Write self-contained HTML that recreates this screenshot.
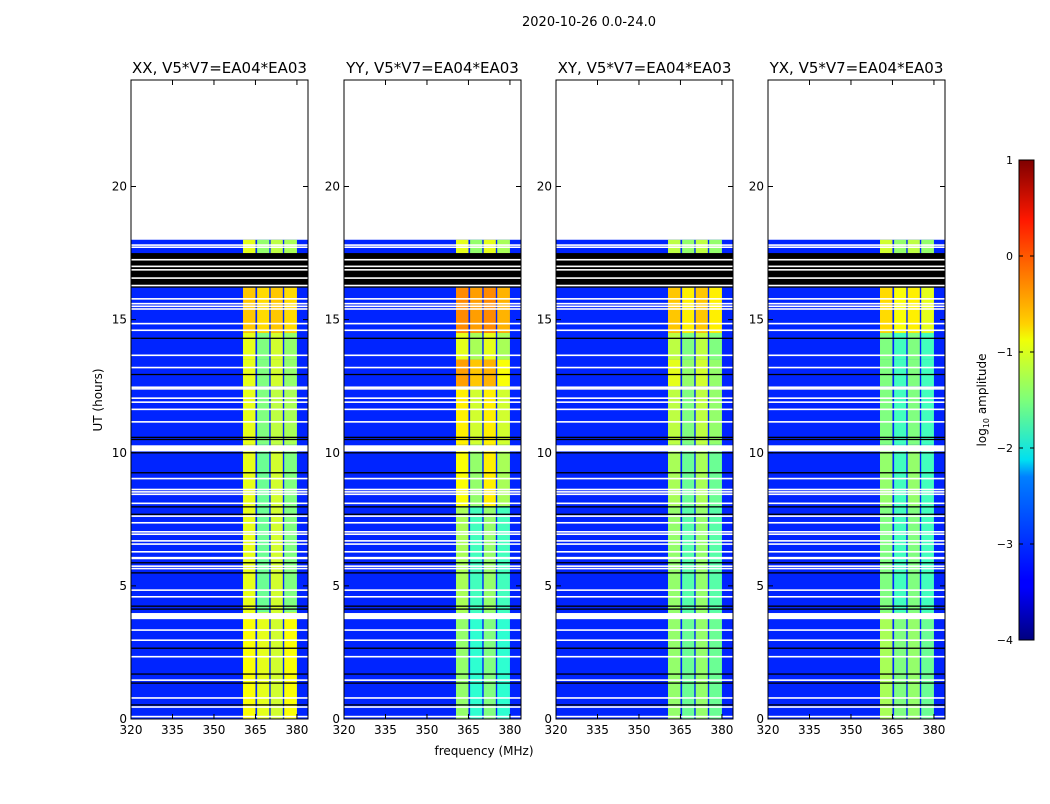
<!DOCTYPE html>
<html><head><meta charset="utf-8">
<style>
html,body{margin:0;padding:0;background:#fff;}
body{width:1050px;height:800px;overflow:hidden;font-family:"DejaVu Sans","Liberation Sans",sans-serif;}
svg text{font-family:"DejaVu Sans","Liberation Sans",sans-serif;}
</style></head>
<body>
<svg id="chart" width="1050" height="800" xmlns="http://www.w3.org/2000/svg">
<defs>
<linearGradient id="jet" x1="0" y1="1" x2="0" y2="0">
<stop offset="0" stop-color="#00007f"/><stop offset="0.11" stop-color="#0000ff"/>
<stop offset="0.125" stop-color="#0000ff"/><stop offset="0.34" stop-color="#0080ff"/>
<stop offset="0.375" stop-color="#00e0f0"/><stop offset="0.5" stop-color="#7dff7a"/>
<stop offset="0.625" stop-color="#f0ff07"/><stop offset="0.66" stop-color="#ffd000"/>
<stop offset="0.875" stop-color="#ff1800"/><stop offset="1" stop-color="#7f0000"/>
</linearGradient>
</defs>
<text x="589" y="26" font-size="13" text-anchor="middle">2020-10-26 0.0-24.0</text>
<text x="484" y="755" font-size="12" text-anchor="middle">frequency (MHz)</text>
<text x="102" y="400" font-size="12" text-anchor="middle" transform="rotate(-90 102 400)">UT (hours)</text>
<g id="panels"></g>
<g>
<rect x="1019" y="160" width="15" height="480" fill="url(#jet)" stroke="#000" stroke-width="1"/>
<g id="cbticks"></g>
<text x="986" y="400" font-size="12" text-anchor="middle" transform="rotate(-90 986 400)">log<tspan font-size="8" dy="3">10</tspan><tspan dy="-3"> amplitude</tspan></text>
</g>
</svg>
<script>
const panelTitles = ["XX, V5*V7=EA04*EA03","YY, V5*V7=EA04*EA03","XY, V5*V7=EA04*EA03","YX, V5*V7=EA04*EA03"];
const xTicks = [320,335,350,365,380];
const yTicks = [0,5,10,15,20];
const cbTicks = [1,0,-1,-2,-3,-4];
const background = -3.2;
const dataEnd = 18;
const subbands = [[360.5,365.0],[365.6,370.0],[370.5,374.9],[375.4,380]];
const segBounds = [0,4,8,10.3,12.5,13.5,14.5,16.2,17.5,18];
const levelsXX = [[-0.9,-1.0,-1.1,-0.9],[-1.0,-1.6,-1.1,-1.5],[-1.0,-1.6,-1.1,-1.5],[-1.0,-1.5,-1.2,-1.3],[-1.0,-1.5,-1.1,-1.4],[-1.0,-1.5,-1.1,-1.4],[-0.6,-0.7,-0.6,-0.7],[-1,-1,-1,-1],[-1.0,-1.4,-1.2,-1.3]];
const levelsYY = [[-1.4,-1.9,-1.5,-1.9],[-1.3,-1.8,-1.4,-1.8],[-0.9,-1.4,-0.8,-1.3],[-0.8,-1.1,-0.8,-1.1],[-0.4,-0.6,-0.5,-0.9],[-1.0,-1.3,-1.0,-1.3],[-0.3,-0.4,-0.3,-0.5],[-1,-1,-1,-1],[-1.0,-1.4,-1.0,-1.3]];
const levelsXY = [[-1.4,-1.6,-1.4,-1.6],[-1.4,-1.7,-1.4,-1.7],[-1.3,-1.6,-1.3,-1.6],[-1.2,-1.5,-1.2,-1.4],[-1.0,-1.4,-1.1,-1.4],[-1.2,-1.5,-1.2,-1.5],[-0.6,-0.8,-0.6,-0.8],[-1,-1,-1,-1],[-1.2,-1.4,-1.2,-1.4]];
const levelsYX = [[-1.3,-1.5,-1.4,-1.6],[-1.5,-1.8,-1.5,-1.8],[-1.4,-1.8,-1.4,-1.8],[-1.5,-1.8,-1.5,-1.8],[-1.5,-1.8,-1.5,-1.8],[-1.5,-1.8,-1.5,-1.8],[-0.7,-0.9,-0.8,-1.0],[-1,-1,-1,-1],[-1.1,-1.4,-1.2,-1.4]];
const whiteLines = [17.8,17.72,15.78,15.6,15.5,15.4,14.85,14.6,13.66,13.2,12.46,12.4,12.05,11.9,11.63,11.16,9.03,8.62,8.53,8.44,8.1,7.62,7.37,7.03,6.94,6.69,6.57,6.28,5.74,5.65,4.84,4.59,3.34,2.96,2.34,1.46,0.79,0.45,0.09];
const blackLines = [14.3,12.94,10.58,10.5,10.0,9.25,7.97,7.69,5.87,5.49,4.24,4.13,2.66,1.69,1.35,0.53];
const whiteBlocks = [[10.05,10.28],[6.0,6.09],[3.75,3.98]];
const blackBlocks = [[16.2,17.5]];
const blockWhiteLines = [17.25,17.0,16.87,16.56,16.28];

const panelX = [131,344,556,768], PW=177, PT=80, PB=719;
const fMin=320,fMax=384,hMin=0,hMax=24;
const allLevels=[levelsXX,levelsYY,levelsXY,levelsYX];
const NS="http://www.w3.org/2000/svg";
function jet(v){let t=(v+4)/5;t=Math.max(0,Math.min(1,t));
 const r=Math.max(0,Math.min(1,1.5-Math.abs(4*t-3))),g=Math.max(0,Math.min(1,1.5-Math.abs(4*t-2))),b=Math.max(0,Math.min(1,1.5-Math.abs(4*t-1)));
 return `rgb(${Math.round(r*255)},${Math.round(g*255)},${Math.round(b*255)})`;}
function mk(tag,attrs,parent){const e=document.createElementNS(NS,tag);for(const k in attrs)e.setAttribute(k,attrs[k]);parent.appendChild(e);return e;}
const root=document.getElementById('panels');
panelTitles.forEach((title,p)=>{
 const x0=panelX[p];
 const xs=f=>x0+(f-fMin)/(fMax-fMin)*PW;
 const ys=h=>PB-(h-hMin)/(hMax-hMin)*(PB-PT);
 const g=mk('g',{},root);
 
 
 const bg=mk('rect',{x:x0,y:ys(dataEnd),width:PW,height:ys(0)-ys(dataEnd),fill:jet(background)},g);
 
 
 const lv=allLevels[p];
 for(let s=0;s<segBounds.length-1;s++){
  subbands.forEach((sb,k)=>{
   const r=mk('rect',{x:xs(sb[0]),y:ys(segBounds[s+1]),width:xs(sb[1])-xs(sb[0]),height:ys(segBounds[s])-ys(segBounds[s+1]),fill:jet(lv[s][k])},g);
   
   
  });
 }
 whiteBlocks.concat(blackBlocks).forEach((b,i)=>{
  const r=mk('rect',{x:x0,y:ys(b[1]),width:PW,height:ys(b[0])-ys(b[1]),fill:i<whiteBlocks.length?'#fff':'#000'},g);
  
  
 });
 whiteLines.concat(blockWhiteLines).forEach(h=>{
  const r=mk('rect',{x:x0,y:ys(h)-0.8,width:PW,height:1.6,fill:'#fff'},g);
  
  
 });
 blackLines.forEach(h=>{
  const r=mk('rect',{x:x0,y:ys(h)-0.6,width:PW,height:1.3,fill:'#000'},g);
  
  
 });
 const fr=mk('rect',{x:x0,y:PT,width:PW,height:PB-PT,fill:'none',stroke:'#000','stroke-width':1},g);
 
 
 const t=mk('text',{x:x0+PW/2,y:PT-7,'font-size':15,'text-anchor':'middle'},g);
 t.textContent=title;
 
 
 xTicks.forEach(v=>{
  const x=xs(v);
  mk('line',{x1:x,x2:x,y1:PB,y2:PB-5,stroke:'#000'},g);
  mk('line',{x1:x,x2:x,y1:PT,y2:PT+5,stroke:'#000'},g);
  const l=mk('text',{x:x,y:PB+15,'font-size':12,'text-anchor':'middle'},g);
  l.textContent=v;
  
  
 });
 yTicks.forEach(v=>{
  const y=ys(v);
  mk('line',{x1:x0,x2:x0+5,y1:y,y2:y,stroke:'#000'},g);
  mk('line',{x1:x0+PW,x2:x0+PW-5,y1:y,y2:y,stroke:'#000'},g);
  const l=mk('text',{x:x0-4,y:y+4,'font-size':12,'text-anchor':'end'},g);
  l.textContent=v;
  
  
 });
});
const cbg=document.getElementById('cbticks');
cbTicks.forEach(v=>{
 const y=640-(v+4)/5*480;
 mk('line',{x1:1019,x2:1023,y1:y,y2:y,stroke:'#000'},cbg);
 mk('line',{x1:1034,x2:1030,y1:y,y2:y,stroke:'#000'},cbg);
 const l=mk('text',{x:1013,y:y+4,'font-size':11,'text-anchor':'end'},cbg);
 l.textContent=v<0?'\u2212'+(-v):String(v);
 
 
});
</script>
</body></html>
